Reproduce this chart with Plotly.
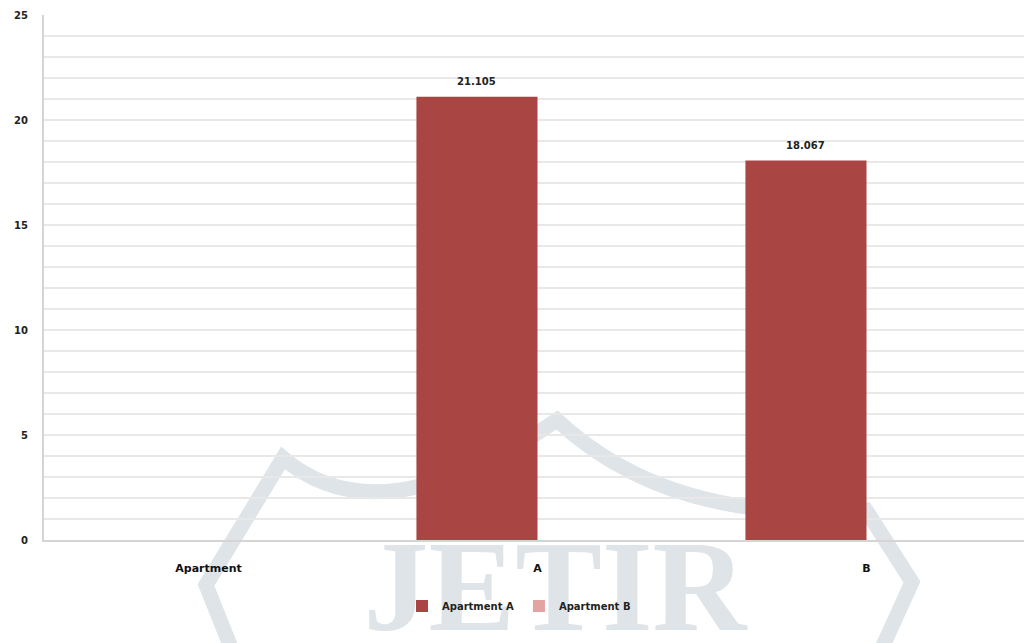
import plotly.graph_objects as go

# Chart data
categories = ["Apartment", "A", "B"]
apartment_a = [None, 21.105, 18.067]
apartment_b = [None, None, None]
y_tick_values = [0, 5, 10, 15, 20, 25]
y_tick_labels = ["0", "5", "10", "15", "20", "25"]

# Page geometry (pixels)
W, H = 1024, 643
ML, MR, MT, MB = 44, 0, 15, 103
PW, PH = W - ML - MR, H - MT - MB
CAT_PX = 329.0          # pixel width of one category slot
BARGAP = 0.264
N_SERIES = 2


def px_x(px):
    return (px - ML) / PW


def px_y(py):
    return (H - MB - py) / PH


fig = go.Figure()

fig.add_trace(go.Bar(
    name="Apartment A",
    x=categories,
    y=apartment_a,
    marker=dict(color="#A94543", line=dict(width=0)),
))
fig.add_trace(go.Bar(
    name="Apartment B",
    x=categories,
    y=apartment_b,
    marker=dict(color="#E3A3A1", line=dict(width=0)),
))

# Value labels above the Apartment A bars (first bar of each group)
bar_w = (1 - BARGAP) / N_SERIES
annotations = []
for i, v in enumerate(apartment_a):
    if v is None:
        continue
    annotations.append(dict(
        x=i - bar_w / 2, y=v, xref="x", yref="y",
        text=f"{v:.3f}", showarrow=False, yshift=15,
        font=dict(family="DejaVu Sans", size=10, color="#222222", weight="bold"),
    ))

# Background watermark: hexagonal outline and lettering
hex_path = (
    f"M {px_x(240)} {px_y(670)} L {px_x(206)} {px_y(585)} L {px_x(283)} {px_y(458)} "
    f"Q {px_x(380)} {px_y(541)} {px_x(557)} {px_y(420)} "
    f"Q {px_x(669)} {px_y(525)} {px_x(866)} {px_y(510)} "
    f"L {px_x(912)} {px_y(582)} L {px_x(872)} {px_y(670)}"
)
shapes = [
    dict(type="path", xref="paper", yref="paper", path=hex_path,
         line=dict(color="#DEE4E8", width=15), layer="below"),
    dict(type="rect", xref="paper", yref="paper",
         x0=px_x(330), x1=px_x(780), y0=px_y(622), y1=px_y(522),
         line=dict(width=0), fillcolor="rgba(0,0,0,0)", layer="below",
         label=dict(text="JETIR",
                    font=dict(family="Liberation Serif", size=130, color="#DEE4E8",
                              weight="bold"),
                    textposition="middle center", padding=0)),
]

fig.update_layout(
    width=W, height=H,
    margin=dict(l=ML, r=MR, t=MT, b=MB, pad=0),
    paper_bgcolor="rgba(0,0,0,0)",
    plot_bgcolor="rgba(0,0,0,0)",
    barmode="group",
    bargap=BARGAP,
    bargroupgap=0,
    shapes=shapes,
    annotations=annotations,
    showlegend=True,
    legend=dict(
        orientation="h",
        x=px_x(519), xanchor="center",
        y=px_y(606), yanchor="middle",
        font=dict(family="DejaVu Sans", size=10, color="#222222", weight="bold"),
        itemwidth=30,
        bgcolor="rgba(0,0,0,0)",
    ),
    font=dict(family="DejaVu Sans", color="#222222"),
)

fig.update_xaxes(
    type="category",
    range=[-0.5, -0.5 + PW / CAT_PX],
    showgrid=False,
    showline=True, linecolor="#D4D4D4", linewidth=2,
    ticks="",
    ticklabelstandoff=17,
    tickfont=dict(family="DejaVu Sans", size=11, color="#111111", weight="bold"),
    zeroline=False,
)
fig.update_yaxes(
    range=[0, 25],
    tickvals=y_tick_values,
    ticktext=y_tick_labels,
    showgrid=True, gridcolor="#E8E8E8", gridwidth=2,
    minor=dict(dtick=1, showgrid=True, gridcolor="#E8E8E8", gridwidth=2),
    showline=True, linecolor="#D4D4D4", linewidth=2,
    ticks="",
    ticklabelstandoff=12,
    tickfont=dict(family="DejaVu Sans", size=10, color="#222222", weight="bold"),
    zeroline=False,
)

fig.write_html("out.html")
